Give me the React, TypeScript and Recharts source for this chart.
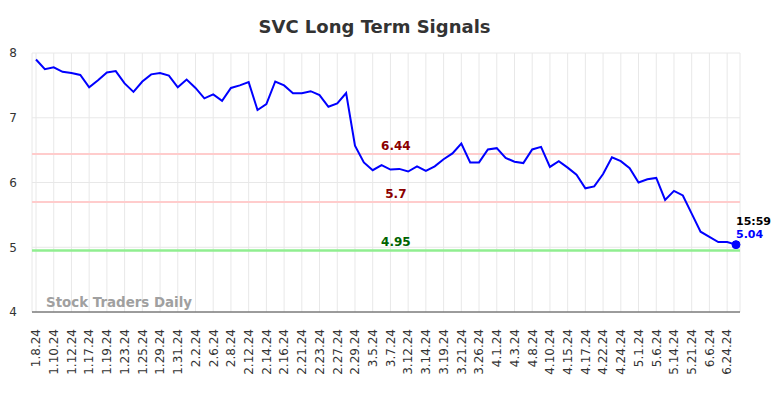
import React from 'react';
import { LineChart, Line, XAxis, YAxis, CartesianGrid, ReferenceLine } from 'recharts';

const dates = [
  '1.8.24', '1.9.24', '1.10.24', '1.11.24', '1.12.24', '1.16.24', '1.17.24', '1.18.24',
  '1.19.24', '1.22.24', '1.23.24', '1.24.24', '1.25.24', '1.26.24', '1.29.24', '1.30.24',
  '1.31.24', '2.1.24', '2.2.24', '2.5.24', '2.6.24', '2.7.24', '2.8.24', '2.9.24',
  '2.12.24', '2.13.24', '2.14.24', '2.15.24', '2.16.24', '2.20.24', '2.21.24', '2.22.24',
  '2.23.24', '2.26.24', '2.27.24', '2.28.24', '2.29.24', '3.1.24', '3.5.24', '3.6.24',
  '3.7.24', '3.8.24', '3.12.24', '3.13.24', '3.14.24', '3.15.24', '3.19.24', '3.20.24',
  '3.21.24', '3.22.24', '3.26.24', '3.27.24', '4.1.24', '4.2.24', '4.3.24', '4.4.24',
  '4.8.24', '4.9.24', '4.10.24', '4.11.24', '4.15.24', '4.16.24', '4.17.24', '4.18.24',
  '4.22.24', '4.23.24', '4.24.24', '4.25.24', '5.1.24', '5.2.24', '5.6.24', '5.8.24',
  '5.14.24', '5.16.24', '5.21.24', '5.30.24', '6.6.24', '6.14.24', '6.24.24', '6.25.24',
];

const prices = [
  7.90, 7.75, 7.78, 7.71, 7.69, 7.66, 7.47, 7.58, 7.70, 7.72,
  7.53, 7.40, 7.56, 7.67, 7.69, 7.65, 7.47, 7.59, 7.46, 7.30,
  7.36, 7.26, 7.46, 7.50, 7.55, 7.12, 7.21, 7.56, 7.50, 7.38,
  7.38, 7.41, 7.35, 7.17, 7.22, 7.38, 6.57, 6.31, 6.19, 6.27,
  6.20, 6.21, 6.17, 6.25, 6.18, 6.25, 6.36, 6.45, 6.60, 6.31,
  6.31, 6.51, 6.53, 6.38, 6.32, 6.30, 6.51, 6.55, 6.24, 6.33,
  6.23, 6.12, 5.91, 5.94, 6.13, 6.39, 6.33, 6.22, 6.00, 6.05,
  6.07, 5.73, 5.87, 5.80, 5.52, 5.24, 5.16, 5.08, 5.08, 5.04,
];

const yTicks = [4, 5, 6, 7, 8];
const upperSignal = 6.44;
const middleSignal = 5.7;
const lowerSignal = 4.95;
const lastTime = '15:59';
const title = 'SVC Long Term Signals';
const watermark = 'Stock Traders Daily';

const data = dates.map((d, i) => ({ date: d, price: prices[i] }));
const FONT = '"DejaVu Sans", sans-serif';

const XTick = (props: any) => {
  const { x, y, payload } = props;
  return (
    <text
      x={x}
      y={y}
      transform={`rotate(-90, ${x}, ${y})`}
      textAnchor="end"
      dy="0.36em"
      fontSize={12}
      fontFamily={FONT}
      fill="#333"
    >
      {payload.value}
    </text>
  );
};

const refLabel = (text: string, color: string) => (props: any) => {
  const vb = props.viewBox || {};
  return (
    <text
      x={vb.x + vb.width * 0.514}
      y={vb.y - 4}
      textAnchor="middle"
      fontSize={12}
      fontWeight="bold"
      fontFamily={FONT}
      fill={color}
    >
      {text}
    </text>
  );
};

const EndDot = (props: any) => {
  const { cx, cy, index, value } = props;
  if (index !== prices.length - 1) return <g key={`d${index}`} />;
  return (
    <g key={`d${index}`}>
      <circle cx={cx} cy={cy} r={4} fill="#0000ff" stroke="#0000ff" />
      <text x={cx} y={cy - 19.5} fontSize={11} fontWeight="bold" fontFamily={FONT} fill="#000">
        {lastTime}
      </text>
      <text x={cx} y={cy - 7} fontSize={11} fontWeight="bold" fontFamily={FONT} fill="#0000ff">
        {Array.isArray(value) ? value[1] : value}
      </text>
    </g>
  );
};

export default function App() {
  return (
    <div style={{ position: 'absolute', left: 0, top: 0, width: 784, height: 398, background: '#fff' }}>
      <LineChart
        width={784}
        height={398}
        data={data}
        margin={{ top: 53, right: 44, bottom: 0, left: 0 }}
      >
        <CartesianGrid stroke="#e8e8e8" strokeWidth={1} />
        <XAxis
          dataKey="date"
          interval={1}
          tickLine={false}
          tickSize={0}
          tickMargin={17}
          height={86}
          padding={{ left: 4, right: 4 }}
          axisLine={{ stroke: '#444', strokeWidth: 1 }}
          tick={<XTick />}
        />
        <YAxis
          domain={[4, 8]}
          ticks={yTicks}
          width={32}
          axisLine={false}
          tickLine={false}
          tickSize={0}
          tickMargin={15}
          tick={{ fill: '#333', fontSize: 12, fontFamily: FONT }}
        />
        <ReferenceLine y={upperSignal} stroke="#ffcccc" strokeWidth={2} label={refLabel(String(upperSignal), '#8b0000')} />
        <ReferenceLine y={middleSignal} stroke="#ffcccc" strokeWidth={2} label={refLabel(String(middleSignal), '#8b0000')} />
        <ReferenceLine y={lowerSignal} stroke="#90ee90" strokeWidth={2.5} label={refLabel(String(lowerSignal), '#006400')} />
        <Line
          type="linear"
          dataKey="price"
          stroke="#0000ff"
          strokeWidth={2}
          dot={EndDot}
          activeDot={false}
          isAnimationActive={false}
        />
      </LineChart>
      <svg
        width={784}
        height={398}
        style={{ position: 'absolute', left: 0, top: 0, pointerEvents: 'none' }}
      >
        <text x={374.5} y={33} textAnchor="middle" fontSize={18} fontWeight="bold" fontFamily={FONT} fill="#333">
          {title}
        </text>
        <text x={46} y={306.5} fontSize={13.4} fontWeight="bold" fontFamily={FONT} fill="#a0a0a0">
          {watermark}
        </text>
      </svg>
    </div>
  );
}
